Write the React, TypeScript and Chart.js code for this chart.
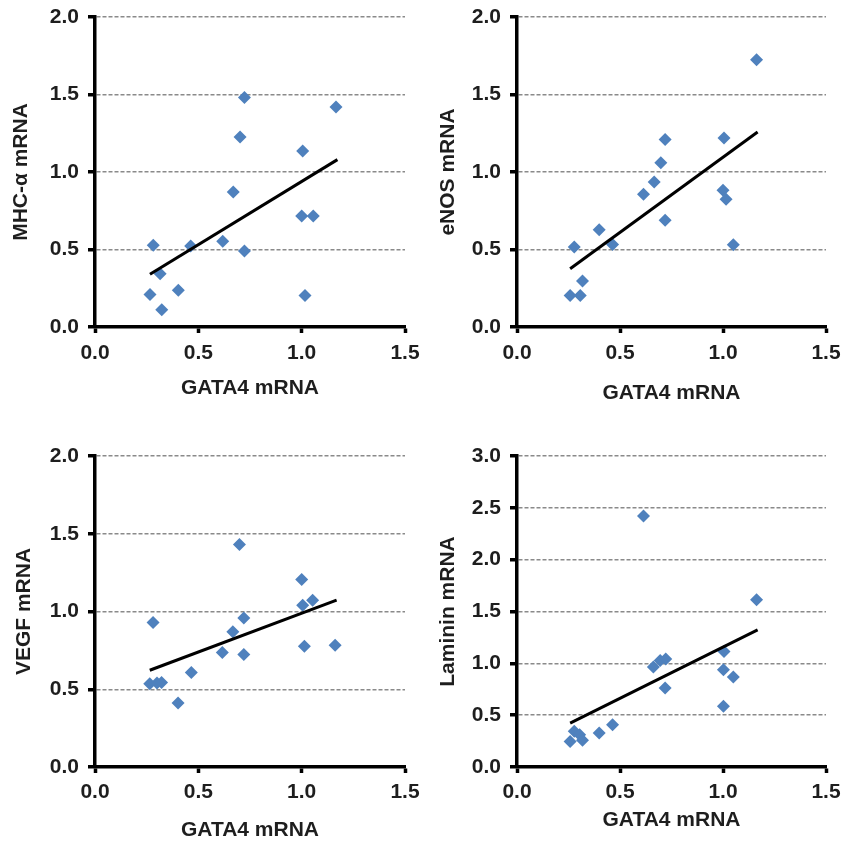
import React, { useEffect, useRef } from "react";
import { Chart, registerables } from "chart.js";
Chart.register(...registerables);

// ---------- data ----------
const xTicks = [0, 0.5, 1.0, 1.5];
const xTitle = "GATA4 mRNA";

const mhcX = [0.266, 0.282, 0.315, 0.323, 0.403, 0.463, 0.618, 0.669, 0.702, 0.723, 0.723, 1.005, 1.0, 1.016, 1.056, 1.166];
const mhcY = [0.21, 0.527, 0.344, 0.112, 0.237, 0.523, 0.553, 0.871, 1.226, 1.48, 0.49, 1.135, 0.716, 0.204, 0.716, 1.419];
const mhcTrendX = [0.266, 1.173];
const mhcTrendY = [0.34, 1.08];

const enosX = [0.258, 0.278, 0.307, 0.318, 0.399, 0.464, 0.614, 0.666, 0.698, 0.719, 0.719, 1.005, 1.0, 1.015, 1.05, 1.163];
const enosY = [0.204, 0.516, 0.204, 0.297, 0.628, 0.533, 0.856, 0.935, 1.06, 1.209, 0.688, 1.219, 0.882, 0.824, 0.531, 1.725];
const enosTrendX = [0.258, 1.168];
const enosTrendY = [0.376, 1.258];

const vegfX = [0.265, 0.281, 0.3, 0.322, 0.402, 0.466, 0.616, 0.667, 0.699, 0.72, 0.72, 1.0, 1.005, 1.013, 1.053, 1.162];
const vegfY = [0.536, 0.929, 0.54, 0.543, 0.412, 0.607, 0.736, 0.869, 1.431, 0.959, 0.723, 1.206, 1.04, 0.777, 1.073, 0.783];
const vegfTrendX = [0.265, 1.169];
const vegfTrendY = [0.622, 1.073];

const lamX = [0.258, 0.278, 0.304, 0.318, 0.399, 0.464, 0.614, 0.662, 0.695, 0.722, 0.719, 1.005, 1.002, 1.002, 1.05, 1.163];
const lamY = [0.247, 0.344, 0.312, 0.257, 0.328, 0.408, 2.422, 0.964, 1.028, 1.041, 0.761, 1.115, 0.938, 0.585, 0.867, 1.613];
const lamTrendX = [0.258, 1.168];
const lamTrendY = [0.424, 1.323];

// ---------- styling ----------
const FONT = "'Liberation Sans', Arial, Helvetica, sans-serif";
const BLUE = "#4F81BD";
const TEXT = "#1e1e1e";

type Panel = {
  title: string; x: number[]; y: number[]; tx: number[]; ty: number[]; ymax: number;
  left: number; top: number; w: number; h: number;
  padTop: number; padRight: number; yW: number; xH: number;
  xTickPad: number; xTitlePad: number; yTitlePad: number;
};

const panels: Panel[] = [
  { title: "MHC-α mRNA", x: mhcX, y: mhcY, tx: mhcTrendX, ty: mhcTrendY, ymax: 2,
    left: 0, top: 0, w: 423, h: 422, padTop: 17, padRight: 18, yW: 95, xH: 95, xTickPad: 8, xTitlePad: 21, yTitlePad: 9 },
  { title: "eNOS mRNA", x: enosX, y: enosY, tx: enosTrendX, ty: enosTrendY, ymax: 2,
    left: 423, top: 0, w: 424, h: 422, padTop: 17, padRight: 21, yW: 94, xH: 95, xTickPad: 8, xTitlePad: 16, yTitlePad: 13 },
  { title: "VEGF mRNA", x: vegfX, y: vegfY, tx: vegfTrendX, ty: vegfTrendY, ymax: 2,
    left: 0, top: 423, w: 423, h: 421, padTop: 33, padRight: 18, yW: 95, xH: 77, xTickPad: 7, xTitlePad: 1, yTitlePad: 12 },
  { title: "Laminin mRNA", x: lamX, y: lamY, tx: lamTrendX, ty: lamTrendY, ymax: 3,
    left: 423, top: 423, w: 424, h: 421, padTop: 33, padRight: 21, yW: 94, xH: 77, xTickPad: 7, xTitlePad: 11, yTitlePad: 13 },
];

function ScatterPanel({ p }: { p: Panel }) {
  const ref = useRef<HTMLCanvasElement>(null);
  useEffect(() => {
    const chart = new Chart(ref.current as HTMLCanvasElement, {
      type: "scatter",
      data: {
        datasets: [
          {
            type: "line",
            data: p.tx.map((x, i) => ({ x, y: p.ty[i] })),
            borderColor: "#000",
            borderWidth: 3,
            pointRadius: 0,
            fill: false,
            order: 0,
          } as any,
          {
            data: p.x.map((x, i) => ({ x, y: p.y[i] })),
            pointStyle: "rectRot",
            pointRadius: 6.5,
            backgroundColor: BLUE,
            borderColor: BLUE,
            borderWidth: 0,
            order: 1,
          },
        ],
      },
      options: {
        responsive: false,
        animation: false,
        devicePixelRatio: 1,
        layout: { padding: { left: 0, top: p.padTop, right: p.padRight, bottom: 0 } },
        plugins: { legend: { display: false }, tooltip: { enabled: false } },
        scales: {
          x: {
            type: "linear",
            min: 0,
            max: 1.5,
            afterBuildTicks: (s: any) => { s.ticks = xTicks.map((v) => ({ value: v })); },
            ticks: {
              callback: (v: any) => Number(v).toFixed(1),
              font: { family: FONT, size: 21, weight: "bold" },
              color: TEXT,
              padding: p.xTickPad,
              maxRotation: 0,
              autoSkip: false,
            },
            grid: { drawOnChartArea: false, drawTicks: true, tickLength: 6, tickColor: "#000", tickWidth: 3.5 },
            border: { display: true, color: "#000", width: 3.5 },
            title: {
              display: true,
              text: xTitle,
              font: { family: FONT, size: 21, weight: "bold" },
              color: TEXT,
              padding: { top: 0, bottom: p.xTitlePad },
            },
            afterFit: (s: any) => { s.height = p.xH; s.paddingLeft = 0; s.paddingRight = 0; },
          },
          y: {
            type: "linear",
            min: 0,
            max: p.ymax,
            ticks: {
              stepSize: 0.5,
              callback: (v: any) => Number(v).toFixed(1),
              font: { family: FONT, size: 21, weight: "bold" },
              color: TEXT,
              padding: 9,
            },
            grid: { drawOnChartArea: true, color: "#8a8a8a", lineWidth: 1.5, drawTicks: true, tickLength: 7, tickColor: "#000", tickWidth: 3.5 },
            border: { display: true, color: "#000", width: 3.5, dash: [4, 2] },
            title: {
              display: true,
              text: p.title,
              font: { family: FONT, size: 21, weight: "bold" },
              color: TEXT,
              padding: { top: p.yTitlePad, bottom: 0 },
            },
            afterFit: (s: any) => { s.width = p.yW; s.paddingTop = 0; s.paddingBottom = 0; },
          },
        },
      } as any,
    });
    return () => chart.destroy();
  }, [p]);
  return (
    <canvas
      ref={ref}
      width={p.w}
      height={p.h}
      style={{ position: "absolute", left: p.left, top: p.top, width: p.w, height: p.h }}
    />
  );
}

export default function App() {
  useEffect(() => { document.body.style.margin = "0"; }, []);
  return (
    <div style={{ position: "absolute", left: 0, top: 0, width: 847, height: 844, background: "#fff", overflow: "hidden" }}>
      {panels.map((p, i) => (
        <ScatterPanel key={i} p={p} />
      ))}
    </div>
  );
}
